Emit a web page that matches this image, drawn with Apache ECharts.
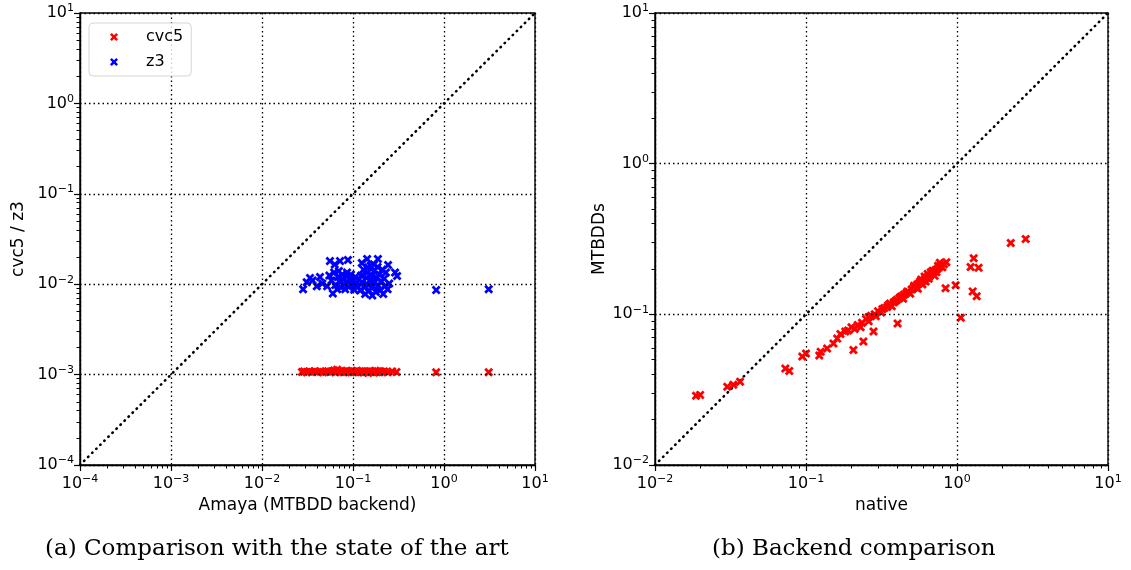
<!DOCTYPE html>
<html>
<head>
<meta charset="utf-8">
<script src="https://cdn.jsdelivr.net/npm/echarts@6/dist/echarts.min.js"></script>
<style>
  html, body { margin: 0; padding: 0; background: #fff; }
  #main { width: 1131px; height: 570px; }
</style>
</head>
<body>
<div id="main"></div>
<script>
  // (a) cvc5 / z3 against Amaya, [amaya, other]
  const cvc5Points = [
    [0.0275, 0.00107], [0.029, 0.00108], [0.031, 0.00106], [0.033, 0.00108], [0.035, 0.00107],
    [0.038, 0.00109], [0.041, 0.00107], [0.044, 0.00108], [0.047, 0.00106], [0.05, 0.00108],
    [0.053, 0.00109], [0.056, 0.00107], [0.059, 0.00108], [0.062, 0.00111], [0.064, 0.00106],
    [0.067, 0.00113], [0.07, 0.00108], [0.073, 0.00107], [0.076, 0.00109], [0.079, 0.00106],
    [0.082, 0.00108], [0.085, 0.0011], [0.088, 0.00107], [0.091, 0.00108], [0.095, 0.00106],
    [0.099, 0.00109], [0.103, 0.00107], [0.107, 0.00108], [0.11, 0.0011], [0.114, 0.00106],
    [0.118, 0.00108], [0.122, 0.00107], [0.127, 0.00109], [0.132, 0.00106], [0.137, 0.00108],
    [0.142, 0.00107], [0.147, 0.00105], [0.152, 0.00109], [0.158, 0.00107], [0.164, 0.00108],
    [0.17, 0.00106], [0.176, 0.0011], [0.182, 0.00107], [0.188, 0.00108], [0.195, 0.00106],
    [0.2, 0.00109], [0.21, 0.00107], [0.22, 0.00108], [0.24, 0.00106], [0.27, 0.00108],
    [0.3, 0.00107], [0.82, 0.00106], [3.1, 0.00106]
  ]
  const z3Points = [
    [0.0283, 0.0088], [0.031, 0.0105], [0.0337, 0.0117], [0.036, 0.011], [0.0434, 0.012],
    [0.04, 0.0095], [0.046, 0.0102],
    [0.0558, 0.018], [0.063, 0.0165], [0.072, 0.018], [0.088, 0.0185], [0.143, 0.019],
    [0.188, 0.019], [0.243, 0.0163], [0.305, 0.0123], [0.29, 0.0135], [0.146, 0.0153],
    [0.125, 0.0172], [0.17, 0.0165],
    [0.052, 0.0095], [0.055, 0.0125], [0.058, 0.011], [0.06, 0.0079], [0.062, 0.0135],
    [0.064, 0.0098], [0.067, 0.0088], [0.068, 0.012], [0.07, 0.014], [0.072, 0.0105],
    [0.074, 0.0092], [0.076, 0.0128], [0.078, 0.0113], [0.08, 0.0099], [0.082, 0.0088],
    [0.084, 0.0122], [0.086, 0.0135], [0.088, 0.0105], [0.09, 0.0093], [0.093, 0.0115],
    [0.095, 0.0128], [0.098, 0.0098], [0.1, 0.0108], [0.103, 0.0087], [0.106, 0.012],
    [0.11, 0.0102], [0.113, 0.0094], [0.116, 0.0113],
    [0.12, 0.0085], [0.123, 0.0125], [0.127, 0.0105], [0.13, 0.0145], [0.133, 0.0092],
    [0.136, 0.0078], [0.14, 0.0118], [0.143, 0.0135], [0.146, 0.0098], [0.15, 0.0085],
    [0.153, 0.011], [0.156, 0.016], [0.16, 0.0125], [0.163, 0.0075], [0.166, 0.0093],
    [0.17, 0.014], [0.174, 0.0105], [0.178, 0.0082], [0.182, 0.0118], [0.186, 0.0155],
    [0.19, 0.0097], [0.195, 0.0128], [0.2, 0.0086], [0.205, 0.0108], [0.21, 0.0145],
    [0.215, 0.0078], [0.22, 0.0115], [0.225, 0.0095], [0.23, 0.0135], [0.24, 0.0088],
    [0.25, 0.0102],
    [0.82, 0.0086], [3.1, 0.0088]
  ]
  // (b) native vs MTBDDs backend
  const backendPoints = [
    [0.0187, 0.0288], [0.0199, 0.0292], [0.0301, 0.0331], [0.033, 0.0341], [0.0366, 0.0357],
    [0.073, 0.0437], [0.0775, 0.042], [0.0945, 0.0525], [0.1, 0.055], [0.1225, 0.0533],
    [0.125, 0.0565], [0.138, 0.0594], [0.152, 0.064], [0.161, 0.069], [0.169, 0.074],
    [0.182, 0.077], [0.19, 0.078], [0.2, 0.082], [0.21, 0.08], [0.22, 0.085],
    [0.235, 0.088], [0.25, 0.093], [0.26, 0.09], [0.27, 0.098], [0.285, 0.1],
    [0.3, 0.105], [0.315, 0.103], [0.33, 0.11], [0.345, 0.112], [0.36, 0.118],
    [0.38, 0.12], [0.4, 0.125], [0.415, 0.128], [0.43, 0.132], [0.445, 0.135],
    [0.46, 0.138], [0.48, 0.14], [0.5, 0.146], [0.515, 0.15], [0.53, 0.152],
    [0.545, 0.158], [0.56, 0.16], [0.58, 0.163], [0.6, 0.167], [0.615, 0.172],
    [0.63, 0.175], [0.645, 0.178], [0.66, 0.18], [0.68, 0.186], [0.7, 0.19],
    [0.72, 0.196], [0.74, 0.2], [0.76, 0.205], [0.78, 0.21], [0.82, 0.215],
    [0.85, 0.222], [0.55, 0.148], [0.62, 0.165], [0.67, 0.19], [0.71, 0.18],
    [0.64, 0.185], [0.58, 0.17],
    [0.23, 0.082], [0.26, 0.096], [0.29, 0.097], [0.32, 0.108], [0.35, 0.115],
    [0.37, 0.113], [0.39, 0.122], [0.42, 0.13], [0.44, 0.127], [0.47, 0.142],
    [0.49, 0.137], [0.52, 0.155], [0.54, 0.15], [0.57, 0.165], [0.59, 0.158],
    [0.61, 0.178], [0.65, 0.172], [0.69, 0.195], [0.73, 0.19], [0.75, 0.21],
    [0.8, 0.205], [0.77, 0.22],
    [0.206, 0.058], [0.24, 0.066], [0.28, 0.077], [0.404, 0.087], [0.84, 0.149],
    [0.98, 0.156], [1.06, 0.095], [1.29, 0.236], [1.23, 0.206], [1.39, 0.204],
    [1.27, 0.142], [1.35, 0.132], [2.27, 0.297], [2.85, 0.316]
  ]
  const rangeA = [1e-4, 10]
  const rangeB = [1e-2, 10]
  const captions = ['(a) Comparison with the state of the art', '(b) Backend comparison']

  const xMark = 'path://M0,2.2 L2.2,0 L5,2.8 L7.8,0 L10,2.2 L7.2,5 L10,7.8 L7.8,10 L5,7.2 L2.2,10 L0,7.8 L2.8,5 Z'
  const font = 'DejaVu Sans'

  function powLabel (v) {
    let e = Math.round(Math.log10(v))
    return '{b|10}{s|' + (e < 0 ? '\u2212' + (-e) : e) + '}'
  }
  const labelRich = {
    b: { fontSize: 16, fontFamily: font, color: '#000' },
    s: { fontSize: 11, fontFamily: font, color: '#000', padding: [0, 0, 9, 0] }
  }

  // minor tick positions (2..9 x 10^n) in log10 units
  function minorLogs (range) {
    let out = []
    for (let e = Math.round(Math.log10(range[0])); e < Math.round(Math.log10(range[1])); e++) {
      for (let k = 2; k <= 9; k++) out.push(e + Math.log10(k))
    }
    return out
  }

  function logAxis (idx, range, split, name, gap, isY) {
    return {
      type: 'log',
      logBase: 10,
      gridIndex: idx,
      min: range[0],
      max: range[1],
      splitNumber: split,
      name: name,
      nameLocation: 'middle',
      nameGap: gap,
      nameTextStyle: { fontFamily: font, fontSize: 17, color: '#000' },
      axisLine: { show: true, onZero: false, lineStyle: { color: '#000', width: 1.4 } },
      axisTick: { show: true, length: 6, lineStyle: { color: '#000', width: 1.2 } },
      splitLine: { show: true, lineStyle: { color: '#000', type: [1.5, 3], width: 1.3 } },
      axisLabel: { formatter: powLabel, rich: labelRich, margin: isY ? 6 : 9 },
      z: 3
    }
  }

  function minorAxis (idx, range, pos) {
    return {
      type: 'value',
      gridIndex: idx,
      position: pos,
      min: Math.log10(range[0]),
      max: Math.log10(range[1]),
      axisLine: { show: false, onZero: false },
      axisTick: { show: true, length: 3.5, customValues: minorLogs(range), lineStyle: { color: '#000', width: 1 } },
      axisLabel: { show: false },
      splitLine: { show: false }
    }
  }

  function diag (idx, range) {
    return {
      type: 'line',
      xAxisIndex: idx,
      yAxisIndex: idx,
      data: [[range[0], range[0]], [range[1], range[1]]],
      symbol: 'none',
      silent: true,
      lineStyle: { color: '#000', type: [0.5, 5.2], width: 2.6, cap: 'round' },
      z: 1
    }
  }

  let chart = echarts.init(document.getElementById('main'))
  chart.setOption({
    animation: false,
    backgroundColor: '#fff',
    grid: [
      { left: 80, top: 13, width: 455, height: 452, show: true, borderColor: '#000', borderWidth: 1.4, backgroundColor: 'transparent' },
      { left: 655, top: 13, width: 453, height: 452, show: true, borderColor: '#000', borderWidth: 1.4, backgroundColor: 'transparent' }
    ],
    legend: {
      left: 89,
      top: 23,
      orient: 'vertical',
      data: ['cvc5', 'z3'],
      itemWidth: 8,
      itemHeight: 8,
      itemGap: 9,
      padding: [6, 8, 6, 21],
      backgroundColor: 'rgba(255,255,255,0.8)',
      borderColor: '#d6d6d6',
      borderWidth: 1,
      borderRadius: 4,
      textStyle: { fontFamily: font, fontSize: 16, color: '#000', padding: [0, 0, 0, 23] }
    },
    xAxis: [
      logAxis(0, rangeA, 5, 'Amaya (MTBDD backend)', 32, false),
      logAxis(1, rangeB, 3, 'native', 32, false),
      minorAxis(0, rangeA, 'bottom'),
      minorAxis(1, rangeB, 'bottom')
    ],
    yAxis: [
      logAxis(0, rangeA, 5, 'cvc5 / z3', 53, true),
      logAxis(1, rangeB, 3, 'MTBDDs', 38, true),
      minorAxis(0, rangeA, 'left'),
      minorAxis(1, rangeB, 'left')
    ],
    series: [
      diag(0, rangeA),
      diag(1, rangeB),
      {
        name: 'cvc5',
        type: 'scatter',
        xAxisIndex: 0,
        yAxisIndex: 0,
        symbol: xMark,
        symbolSize: 9,
        itemStyle: { color: '#ff0000', opacity: 1 },
        data: cvc5Points
      },
      {
        name: 'z3',
        type: 'scatter',
        xAxisIndex: 0,
        yAxisIndex: 0,
        symbol: xMark,
        symbolSize: 9,
        itemStyle: { color: '#0000ff', opacity: 1 },
        data: z3Points
      },
      {
        name: 'backend',
        type: 'scatter',
        xAxisIndex: 1,
        yAxisIndex: 1,
        symbol: xMark,
        symbolSize: 9,
        itemStyle: { color: '#ff0000', opacity: 1 },
        data: backendPoints
      }
    ],
    graphic: [
      { type: 'text', left: 45, top: 538, style: { text: captions[0], font: '23px "DejaVu Serif"', fill: '#000' } },
      { type: 'text', left: 712, top: 538, style: { text: captions[1], font: '23px "DejaVu Serif"', fill: '#000' } }
    ]
  })
</script>
</body>
</html>
